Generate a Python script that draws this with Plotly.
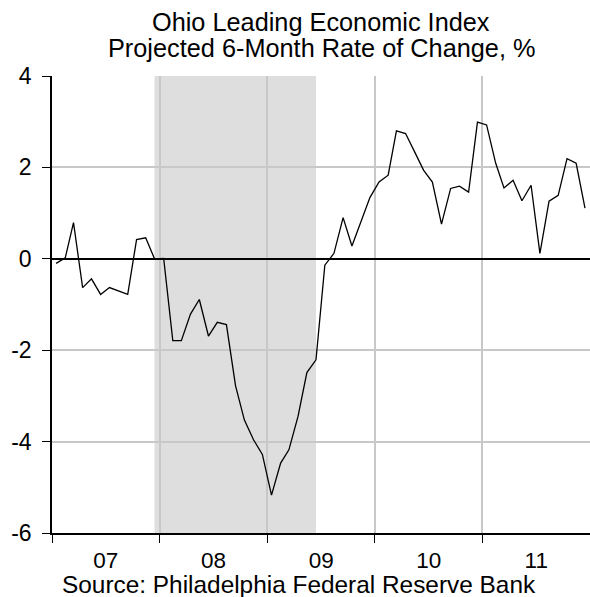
import pandas as pd
import plotly.graph_objects as go

# monthly readings, Jan 2007 - Dec 2011 (plotted mid-month)
months = pd.date_range("2007-01-01", periods=60, freq="MS") + pd.Timedelta(days=14)

vals_2007 = [-0.10, 0.02, 0.79, -0.63, -0.44, -0.78, -0.63, -0.70, -0.78, 0.42, 0.46, 0.00]
vals_2008 = [0.01, -1.79, -1.79, -1.21, -0.89, -1.69, -1.39, -1.44, -2.78, -3.53, -3.96, -4.28]
vals_2009 = [-5.17, -4.47, -4.18, -3.45, -2.49, -2.21, -0.14, 0.12, 0.90, 0.28, 0.83, 1.34]
vals_2010 = [1.68, 1.83, 2.80, 2.74, 2.35, 1.94, 1.68, 0.76, 1.54, 1.59, 1.46, 2.99]
vals_2011 = [2.93, 2.09, 1.55, 1.72, 1.27, 1.61, 0.12, 1.26, 1.39, 2.19, 2.09, 1.11]
lei = vals_2007 + vals_2008 + vals_2009 + vals_2010 + vals_2011

recession_start = "2007-12-15"
recession_end = "2009-06-15"

y_ticks = [-6, -4, -2, 0, 2, 4]
y_labels = ["-6", "-4", "-2", "0", "2", "4"]

FONT = "Liberation Sans, Arial, sans-serif"
GRID = "#C8C8C8"

fig = go.Figure()
fig.add_trace(go.Scatter(x=months, y=lei, mode="lines",
                         line=dict(color="black", width=1.3), showlegend=False))

fig.add_shape(type="rect", xref="x", yref="paper",
              x0=recession_start, x1=recession_end, y0=0, y1=1,
              fillcolor="#DEDEDE", line_width=0, layer="below")

fig.update_layout(
    width=590, height=597,
    margin=dict(l=52, r=0, t=76, b=64, autoexpand=False),
    paper_bgcolor="white", plot_bgcolor="white",
    font=dict(family=FONT, size=23, color="black"),
)

fig.update_xaxes(
    type="date", range=["2007-01-01", "2012-01-01"], automargin=False,
    tick0="2007-01-01", dtick="M12", tickformat="%y", ticklabelmode="period",
    ticks="outside", ticklen=8, tickcolor="black", tickwidth=1.3,
    ticklabelstandoff=-2,
    showline=True, linecolor="black", linewidth=1.5,
    showgrid=True, gridcolor=GRID, gridwidth=1.5,
    tickfont=dict(size=22.5),
)
fig.update_yaxes(
    range=[-6, 4], tickvals=y_ticks, ticktext=y_labels, automargin=False,
    ticks="outside", ticklen=8, tickcolor="black", tickwidth=1.3,
    ticklabelstandoff=6,
    showline=True, linecolor="black", linewidth=1.5,
    showgrid=True, gridcolor=GRID, gridwidth=1.5,
    zeroline=True, zerolinecolor="black", zerolinewidth=1.5,
    tickfont=dict(size=23),
)

fig.add_annotation(text="Ohio Leading Economic Index", xref="paper", yref="paper",
                   x=0.5, y=1.118, xanchor="center", yanchor="middle",
                   showarrow=False, font=dict(size=25.3))
fig.add_annotation(text="Projected 6-Month Rate of Change, %", xref="paper", yref="paper",
                   x=0.5, y=1.062, xanchor="center", yanchor="middle",
                   showarrow=False, font=dict(size=25.3))
fig.add_annotation(text="Source: Philadelphia Federal Reserve Bank", xref="paper", yref="paper",
                   x=0.4585, y=-0.1118, xanchor="center", yanchor="middle",
                   showarrow=False, borderpad=0, font=dict(size=24.4))

fig.write_html("out.html", config={"displayModeBar": False},
               post_script="document.body.style.margin='0';")
